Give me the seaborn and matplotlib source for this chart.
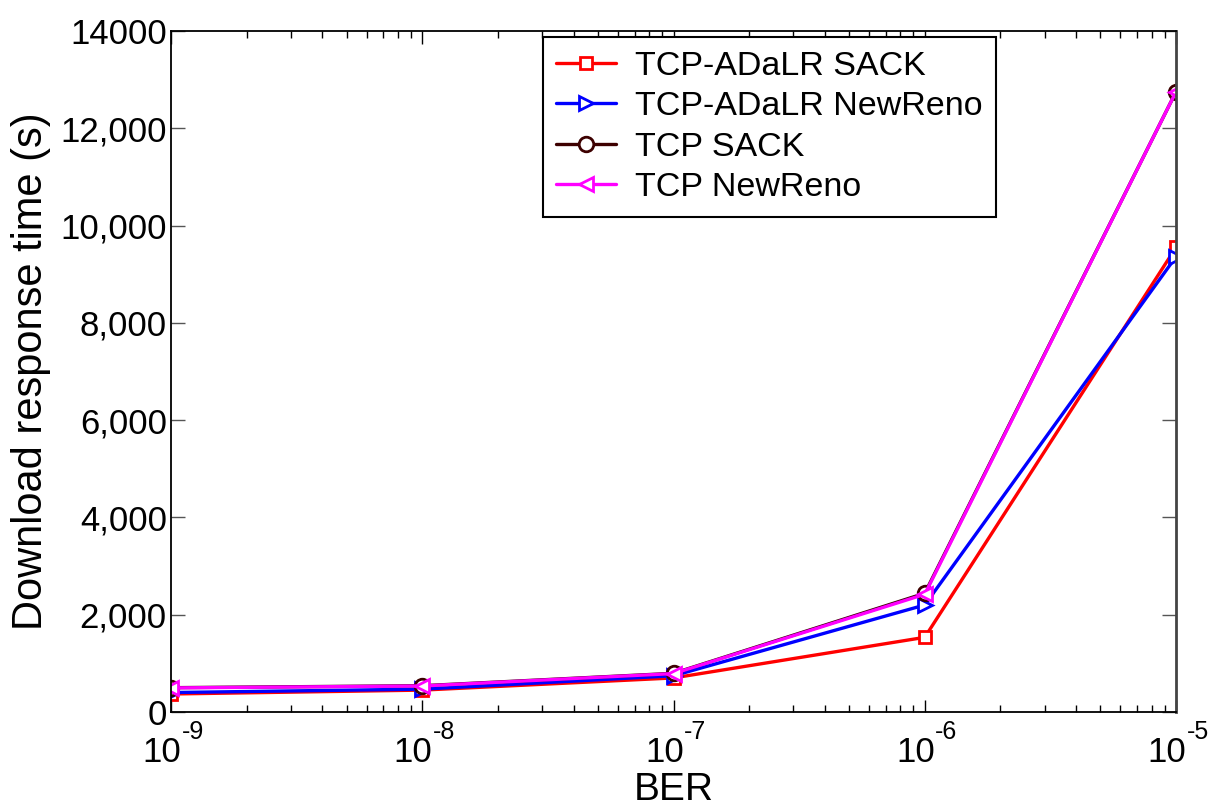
import matplotlib
matplotlib.use("Agg")
import matplotlib.pyplot as plt
import matplotlib.ticker as mticker
import matplotlib.transforms as mtransforms
import numpy as np
import pandas as pd
import seaborn as sns

# Bit error rates on the x axis
ber = [1e-9, 1e-8, 1e-7, 1e-6, 1e-5]

# Download response time (s) for each TCP variant
adalr_sack = [370, 450, 700, 1535, 9550]
adalr_newreno = [400, 470, 745, 2200, 9360]
tcp_sack = [500, 540, 795, 2440, 12750]
tcp_newreno = [495, 535, 790, 2420, 12750]

series_names = ["TCP-ADaLR SACK", "TCP-ADaLR NewReno", "TCP SACK", "TCP NewReno"]
series_values = [adalr_sack, adalr_newreno, tcp_sack, tcp_newreno]
series_colors = ["#ff0000", "#0000ff", "#3d0000", "#ff00ff"]
series_markers = ["s", ">", "o", "<"]
series_msize = [8.5, 10.5, 10.5, 10.5]

y_ticks = [0, 2000, 4000, 6000, 8000, 10000, 12000, 14000]
y_tick_labels = ["0", "2,000", "4,000", "6,000", "8,000", "10,000", "12,000", "14000"]
x_tick_base = ["10", "10", "10", "10", "10"]
x_tick_exponents = ["-9", "-8", "-7", "-6", "-5"]

sns.set_style("white")
plt.rcParams["font.family"] = ["Liberation Sans", "DejaVu Sans"]
plt.rcParams["text.color"] = "black"
plt.rcParams["axes.labelcolor"] = "black"
plt.rcParams["xtick.color"] = "black"
plt.rcParams["ytick.color"] = "black"

df = pd.DataFrame({
    "BER": np.tile(ber, len(series_names)),
    "time": np.concatenate(series_values),
    "series": np.repeat(series_names, len(ber)),
})

fig = plt.figure(figsize=(12.09, 8.07), dpi=100)
ax = fig.add_axes([171 / 1209, 1 - 712 / 807, (1176 - 171) / 1209, (712 - 31) / 807])

for name, color, marker, ms in zip(series_names, series_colors, series_markers, series_msize):
    sns.lineplot(
        data=df[df["series"] == name], x="BER", y="time", ax=ax,
        color=color, marker=marker, markersize=ms, linewidth=2.4,
        markerfacecolor="white", markeredgecolor=color, markeredgewidth=2,
        label=name, legend=False,
    )

ax.set_xscale("log")
ax.set_xlim(1e-9, 1e-5)
ax.set_ylim(0, 14000)
ax.set_xticks(ber)
ax.set_xticklabels(x_tick_base)
ax.xaxis.set_minor_locator(mticker.LogLocator(base=10, subs=np.arange(2, 10)))
ax.xaxis.set_minor_formatter(mticker.NullFormatter())
ax.set_yticks(y_ticks)
ax.set_yticklabels(y_tick_labels)

ax.tick_params(axis="x", which="major", direction="in", length=9, width=1,
               top=True, bottom=True, labelsize=25, pad=17.5, colors="black")
ax.tick_params(axis="x", which="minor", direction="in", length=5, width=1,
               top=True, bottom=True, colors="black")
ax.tick_params(axis="y", which="major", direction="in", length=10, width=1,
               left=True, right=True, labelsize=25, pad=3, color="#555555",
               labelcolor="black")

# shift the mantissa left so that mantissa + exponent sit centred on the tick
shift = mtransforms.ScaledTranslation(-9 / 100, 0, fig.dpi_scale_trans)
for lab in ax.get_xticklabels():
    lab.set_transform(lab.get_transform() + shift)

# exponents written as raised text next to each mantissa
for x, ex in zip(ber, x_tick_exponents):
    ax.annotate(ex, xy=(x, 0), xycoords=("data", "axes fraction"),
                xytext=(7.5, -19.5), textcoords="offset points",
                ha="left", va="baseline", fontsize=18, color="black",
                annotation_clip=False)

for side in ["left", "bottom", "top"]:
    ax.spines[side].set_color("black")
    ax.spines[side].set_linewidth(1.3)
ax.spines["right"].set_color("#444444")
ax.spines["right"].set_linewidth(2)

ax.set_xlabel("BER", fontsize=28, labelpad=2)
ax.set_ylabel("Download response time (s)", fontsize=30, labelpad=7)

leg = ax.legend(
    loc="upper left", bbox_to_anchor=(0.37, 0.991), fontsize=24.5,
    frameon=True, fancybox=False, framealpha=1, edgecolor="black",
    handlelength=1.75, handletextpad=0.55, labelspacing=0.28,
    borderpad=0.4, borderaxespad=0, numpoints=1,
)
leg.get_frame().set_linewidth(1.5)
for txt in leg.get_texts():
    txt.set_color("black")

fig.savefig("out.png", dpi=100)
